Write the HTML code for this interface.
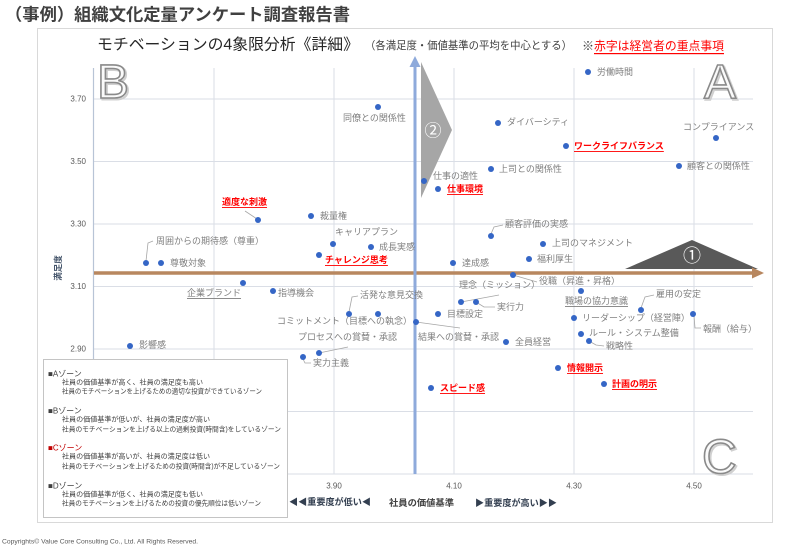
<!DOCTYPE html>
<html><head><meta charset="utf-8">
<style>
html,body{margin:0;padding:0;background:#fff;}
svg{display:block;}
text{font-family:"Liberation Sans","Noto Sans CJK JP",sans-serif;}
.lb{font-size:9px;fill:#7f7f7f;dominant-baseline:central;}
.rd{font-size:9px;fill:#ff0000;font-weight:bold;dominant-baseline:central;text-decoration:underline;}
.dt{fill:#3566c6;}
.ld{stroke:#a6a6a6;stroke-width:0.8;fill:none;}
.tk{font-size:8px;fill:#595959;dominant-baseline:central;}
.lg{font-size:7px;fill:#404040;dominant-baseline:central;}
.lh{font-size:8px;fill:#404040;dominant-baseline:central;}
.big{font-family:"Liberation Sans",sans-serif;font-size:48px;fill:#fafafa;stroke:#8a8a8a;stroke-width:1.6;}
.bigs{font-family:"Liberation Sans",sans-serif;font-size:48px;fill:none;stroke:#d0d0d0;stroke-width:2;}
</style></head>
<body>
<svg width="800" height="550" viewBox="0 0 800 550" xmlns="http://www.w3.org/2000/svg">
<rect x="0" y="0" width="800" height="550" fill="#fff"/>
<!-- header -->
<text x="5" y="15" font-size="17" font-weight="bold" fill="#404040" dominant-baseline="central" textLength="345" lengthAdjust="spacingAndGlyphs">（事例）組織文化定量アンケート調査報告書</text>
<!-- card -->
<rect x="37.5" y="28.5" width="735" height="494" fill="#fff" stroke="#d9d9d9" stroke-width="1"/>
<!-- chart title -->
<text x="97" y="45" font-size="15.5" fill="#262626" dominant-baseline="central" textLength="262" lengthAdjust="spacingAndGlyphs">モチベーションの4象限分析《詳細》</text>
<text x="365" y="46" font-size="11" fill="#404040" dominant-baseline="central" textLength="207" lengthAdjust="spacingAndGlyphs">（各満足度・価値基準の平均を中心とする）</text>
<text x="582" y="46" font-size="12" fill="#404040" dominant-baseline="central">※</text>
<text x="594" y="46" font-size="12" fill="#ff0000" dominant-baseline="central" text-decoration="underline" textLength="130" lengthAdjust="spacingAndGlyphs">赤字は経営者の重点事項</text>

<!-- gridlines -->
<g stroke="#dadee6" stroke-width="1">
<line x1="214" y1="68" x2="214" y2="474"/>
<line x1="334" y1="68" x2="334" y2="474"/>
<line x1="454" y1="68" x2="454" y2="474"/>
<line x1="574" y1="68" x2="574" y2="474"/>
<line x1="694" y1="68" x2="694" y2="474"/>
<line x1="93" y1="99" x2="753" y2="99"/>
<line x1="93" y1="161.5" x2="753" y2="161.5"/>
<line x1="93" y1="224" x2="753" y2="224"/>
<line x1="93" y1="286.5" x2="753" y2="286.5"/>
<line x1="93" y1="349" x2="753" y2="349"/>
<line x1="93" y1="411.5" x2="753" y2="411.5"/>
<line x1="93" y1="474" x2="753" y2="474"/>
</g>
<line x1="93.5" y1="68" x2="93.5" y2="474" stroke="#b8c4d6" stroke-width="1.2"/>

<!-- y ticks -->
<text class="tk" x="86" y="99" text-anchor="end">3.70</text>
<text class="tk" x="86" y="161.5" text-anchor="end">3.50</text>
<text class="tk" x="86" y="224" text-anchor="end">3.30</text>
<text class="tk" x="86" y="286.5" text-anchor="end">3.10</text>
<text class="tk" x="86" y="349" text-anchor="end">2.90</text>
<!-- x ticks -->
<text class="tk" x="334" y="486" text-anchor="middle">3.90</text>
<text class="tk" x="454" y="486" text-anchor="middle">4.10</text>
<text class="tk" x="574" y="486" text-anchor="middle">4.30</text>
<text class="tk" x="694" y="486" text-anchor="middle">4.50</text>

<!-- y axis title -->
<text x="0" y="0" font-size="8.5" font-weight="bold" fill="#44546a" dominant-baseline="central" text-anchor="middle" transform="translate(58,268) rotate(-90)">満足度</text>

<!-- big letters -->
<text class="bigs" x="98.5" y="99.5">B</text>
<text class="big" x="97" y="98">B</text>
<text class="bigs" x="705.5" y="99.5">A</text>
<text class="big" x="704" y="98">A</text>
<text class="bigs" x="703.5" y="474.5">C</text>
<text class="big" x="702" y="473">C</text>

<!-- triangle 2 -->
<polygon points="421,62 452,130 421,198" fill="#a6a6a6"/>
<text x="433" y="131" font-size="17" fill="#fff" text-anchor="middle" dominant-baseline="central" font-family="'DejaVu Sans',sans-serif">②</text>
<!-- triangle 1 -->
<polygon points="625,269 692,240 758,269" fill="#595959"/>
<text x="692" y="256" font-size="18" fill="#fff" text-anchor="middle" dominant-baseline="central" font-family="'DejaVu Sans',sans-serif">①</text>

<!-- brown arrow -->
<line x1="94" y1="273" x2="754" y2="273" stroke="#b8875f" stroke-width="3.5"/>
<polygon points="752,267.5 764,273 752,278.5" fill="#b8875f"/>

<!-- blue arrow -->
<line x1="415" y1="474" x2="415" y2="65" stroke="#8eaadb" stroke-width="3"/>
<polygon points="409.5,67 420.5,67 415,56" fill="#8eaadb"/>

<!-- leader lines -->
<g class="ld">
<polyline points="424,181 427,177 431,176"/>
<polyline points="245,211 257,219"/>
<polyline points="146,261 148,243 153,241"/>
<polyline points="491,234 494,227 503,225"/>
<polyline points="513,275 537,282"/>
<polyline points="349,312 352,297 358,296"/>
<polyline points="461,302 499,295"/>
<polyline points="476,302 484,307 495,307"/>
<polyline points="416,322 460,328"/>
<polyline points="641,308 645,297 654,295"/>
<polyline points="694,316 695,328 701,328"/>
<polyline points="589,341 596,345 604,346"/>
<polyline points="319,353 348,347"/>
<polyline points="303,359 305,363 311,363"/>
</g>

<!-- dots -->
<g class="dt">
<circle cx="588" cy="72" r="3"/>
<circle cx="498" cy="123" r="3"/>
<circle cx="716" cy="138" r="3"/>
<circle cx="566" cy="146" r="3"/>
<circle cx="679" cy="166" r="3"/>
<circle cx="491" cy="169" r="3"/>
<circle cx="378" cy="107" r="3"/>
<circle cx="424" cy="181" r="3"/>
<circle cx="438" cy="189" r="3"/>
<circle cx="258" cy="220" r="3"/>
<circle cx="311" cy="216" r="3"/>
<circle cx="333" cy="244" r="3"/>
<circle cx="371" cy="247" r="3"/>
<circle cx="146" cy="263" r="3"/>
<circle cx="161" cy="263" r="3"/>
<circle cx="319" cy="255" r="3"/>
<circle cx="491" cy="236" r="3"/>
<circle cx="543" cy="244" r="3"/>
<circle cx="529" cy="259" r="3"/>
<circle cx="453" cy="263" r="3"/>
<circle cx="513" cy="275" r="3"/>
<circle cx="243" cy="283" r="3"/>
<circle cx="273" cy="291" r="3"/>
<circle cx="349" cy="314" r="3"/>
<circle cx="378" cy="314" r="3"/>
<circle cx="461" cy="302" r="3"/>
<circle cx="476" cy="302" r="3"/>
<circle cx="438" cy="314" r="3"/>
<circle cx="416" cy="322" r="3"/>
<circle cx="506" cy="342" r="3"/>
<circle cx="581" cy="291" r="3"/>
<circle cx="641" cy="310" r="3"/>
<circle cx="574" cy="318" r="3"/>
<circle cx="693" cy="314" r="3"/>
<circle cx="581" cy="334" r="3"/>
<circle cx="589" cy="341" r="3"/>
<circle cx="319" cy="353" r="3"/>
<circle cx="303" cy="357" r="3"/>
<circle cx="130" cy="346" r="3"/>
<circle cx="558" cy="368" r="3"/>
<circle cx="431" cy="388" r="3"/>
<circle cx="604" cy="384" r="3"/>
</g>

<!-- labels -->
<text class="lb" x="597" y="72">労働時間</text>
<text class="lb" x="507" y="122">ダイバーシティ</text>
<text class="lb" x="683" y="127">コンプライアンス</text>
<text class="rd" x="574" y="146">ワークライフバランス</text>
<text class="lb" x="687" y="166">顧客との関係性</text>
<text class="lb" x="499" y="169">上司との関係性</text>
<text class="lb" x="343" y="118">同僚との関係性</text>
<text class="lb" x="433" y="176">仕事の適性</text>
<text class="rd" x="447" y="189">仕事環境</text>
<text class="rd" x="222" y="202">適度な刺激</text>
<text class="lb" x="320" y="216">裁量権</text>
<text class="lb" x="335" y="232">キャリアプラン</text>
<text class="lb" x="379" y="247">成長実感</text>
<text class="lb" x="156" y="241">周囲からの期待感（尊重）</text>
<text class="lb" x="170" y="263">尊敬対象</text>
<text class="rd" x="325" y="260">チャレンジ思考</text>
<text class="lb" x="505" y="224">顧客評価の実感</text>
<text class="lb" x="552" y="243">上司のマネジメント</text>
<text class="lb" x="537" y="259">福利厚生</text>
<text class="lb" x="462" y="263">達成感</text>
<text class="lb" x="539" y="281">役職（昇進・昇格）</text>
<text class="lb" x="187" y="293" text-decoration="underline">企業ブランド</text>
<text class="lb" x="278" y="293">指導機会</text>
<text class="lb" x="360" y="295">活発な意見交換</text>
<text class="lb" x="277" y="321">コミットメント（目標への執念）</text>
<text class="lb" x="459" y="285">理念（ミッション）</text>
<text class="lb" x="497" y="307">実行力</text>
<text class="lb" x="447" y="314">目標設定</text>
<text class="lb" x="418" y="337">結果への賞賛・承認</text>
<text class="lb" x="515" y="342">全員経営</text>
<text class="lb" x="565" y="301" text-decoration="underline">職場の協力意識</text>
<text class="lb" x="656" y="294">雇用の安定</text>
<text class="lb" x="582" y="318">リーダーシップ（経営陣）</text>
<text class="lb" x="703" y="329">報酬（給与）</text>
<text class="lb" x="589" y="333">ルール・システム整備</text>
<text class="lb" x="606" y="346">戦略性</text>
<text class="lb" x="298" y="337">プロセスへの賞賛・承認</text>
<text class="lb" x="313" y="363">実力主義</text>
<text class="lb" x="139" y="345">影響感</text>
<text class="rd" x="567" y="368">情報開示</text>
<text class="rd" x="440" y="388">スピード感</text>
<text class="rd" x="612" y="384">計画の明示</text>

<!-- x axis titles -->
<text x="289" y="502" font-size="9" font-weight="bold" fill="#333f50" dominant-baseline="central" textLength="82" lengthAdjust="spacingAndGlyphs">◀◀重要度が低い◀</text>
<text x="389" y="503" font-size="9" font-weight="bold" fill="#404040" dominant-baseline="central" textLength="65" lengthAdjust="spacingAndGlyphs">社員の価値基準</text>
<text x="475" y="503" font-size="9" font-weight="bold" fill="#333f50" dominant-baseline="central" textLength="82" lengthAdjust="spacingAndGlyphs">▶重要度が高い▶▶</text>

<!-- legend box -->
<rect x="43.5" y="359.5" width="244" height="158" fill="#fff" stroke="#c4c4c4" stroke-width="1"/>
<text class="lh" x="48" y="374">■Aゾーン</text>
<text class="lg" x="62" y="383" textLength="141" lengthAdjust="spacingAndGlyphs">社員の価値基準が高く、社員の満足度も高い</text>
<text class="lg" x="62" y="392" textLength="200" lengthAdjust="spacingAndGlyphs">社員のモチベーションを上げるための適切な投資ができているゾーン</text>
<text class="lh" x="48" y="411">■Bゾーン</text>
<text class="lg" x="62" y="420" textLength="148" lengthAdjust="spacingAndGlyphs">社員の価値基準が低いが、社員の満足度が高い</text>
<text class="lg" x="62" y="430" textLength="219" lengthAdjust="spacingAndGlyphs">社員のモチベーションを上げる以上の過剰投資(時間含)をしているゾーン</text>
<text class="lh" x="48" y="448" fill="#c00000" style="fill:#c00000">■Cゾーン</text>
<text class="lg" x="62" y="457" textLength="148" lengthAdjust="spacingAndGlyphs">社員の価値基準が高いが、社員の満足度は低い</text>
<text class="lg" x="62" y="467" textLength="218" lengthAdjust="spacingAndGlyphs">社員のモチベーションを上げるための投資(時間含)が不足しているゾーン</text>
<text class="lh" x="48" y="486">■Dゾーン</text>
<text class="lg" x="62" y="495" textLength="141" lengthAdjust="spacingAndGlyphs">社員の価値基準が低く、社員の満足度も低い</text>
<text class="lg" x="62" y="504" textLength="199" lengthAdjust="spacingAndGlyphs">社員のモチベーションを上げるための投資の優先順位は低いゾーン</text>

<!-- copyright -->
<text x="2" y="542" font-size="6.3" fill="#595959" dominant-baseline="central" textLength="196" lengthAdjust="spacingAndGlyphs">Copyrights© Value Core Consulting Co., Ltd.  All Rights Reserved.</text>
</svg>
</body></html>
